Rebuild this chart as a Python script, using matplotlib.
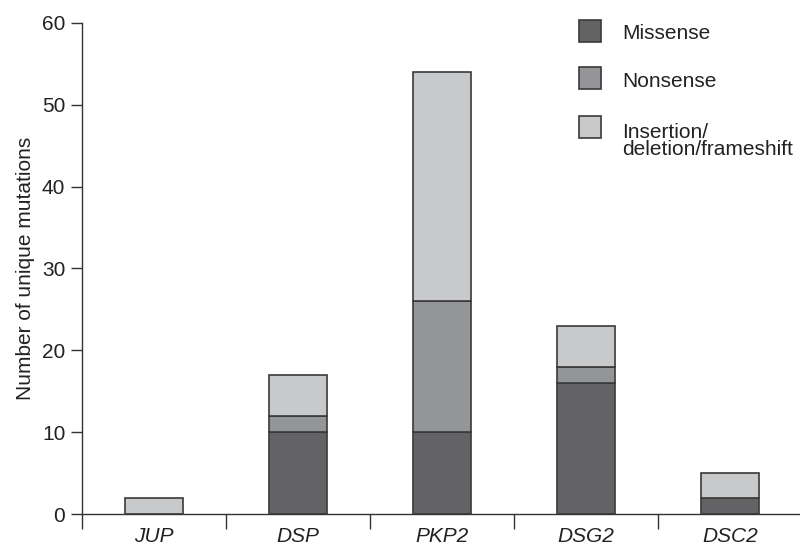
import matplotlib.pyplot as plt
from matplotlib.patches import Rectangle
import numpy as np

plt.rcParams['font.family'] = ['Liberation Sans', 'DejaVu Sans']

# data
genes = ['JUP', 'DSP', 'PKP2', 'DSG2', 'DSC2']
missense = [0, 10, 10, 16, 2]
nonsense = [0, 2, 16, 2, 0]
indel = [2, 5, 28, 5, 3]
labels = ['Missense', 'Nonsense', 'Insertion/\ndeletion/frameshift']
colors = ['#636366', '#939598', '#c8c9cb']
edge = '#3a3a3a'
txt = '#222222'

fig = plt.figure(figsize=(8, 5.46), dpi=100)
ax = fig.add_axes([0.1025, 0.0586, 0.9, 0.8993])

x = np.arange(len(genes))
bottom = np.zeros(len(genes))
for vals, c in zip([missense, nonsense, indel], colors):
    vals = np.array(vals)
    mask = vals > 0
    ax.bar(x[mask], vals[mask], bottom=bottom[mask], width=0.4, color=c,
           edgecolor=edge, linewidth=1.2, zorder=3)
    bottom += vals

ax.set_xlim(-0.5, 4.5)
ax.set_ylim(0, 60)
ax.set_yticks(range(0, 61, 10))
ax.tick_params(axis='y', labelsize=15, length=8, width=1, color='#333333',
               pad=4, labelcolor=txt)

# x ticks sit between categories, labels centered under bars
ax.set_xticks(np.arange(-0.5, 4.5, 1.0))
ax.set_xticklabels([])
ax.tick_params(axis='x', length=11, width=1, color='#333333')
for xi, g in zip(x, genes):
    ax.text(xi, -3.9, g, ha='center', va='bottom', fontsize=15,
            style='italic', color=txt, clip_on=False)

for s in ['top', 'right']:
    ax.spines[s].set_visible(False)
for s in ['left', 'bottom']:
    ax.spines[s].set_color('#333333')
    ax.spines[s].set_linewidth(1)

ax.set_ylabel('Number of unique mutations', fontsize=15, color=txt, labelpad=5)

# legend drawn by hand (baseline = last line of each label)
centers = [0.9432, 0.8571, 0.7674]
baselines = [0.9286, 0.8407, 0.7161]
for yc, yb, c, lab in zip(centers, baselines, colors, labels):
    fig.patches.append(Rectangle((0.7238, yc - 0.0201), 0.0275, 0.0403,
                                 transform=fig.transFigure, facecolor=c,
                                 edgecolor=edge, linewidth=1.2))
    fig.text(0.7775, yb, lab, ha='left', va='baseline', fontsize=15,
             color=txt, linespacing=0.9)

fig.savefig('out.png', dpi=100)
